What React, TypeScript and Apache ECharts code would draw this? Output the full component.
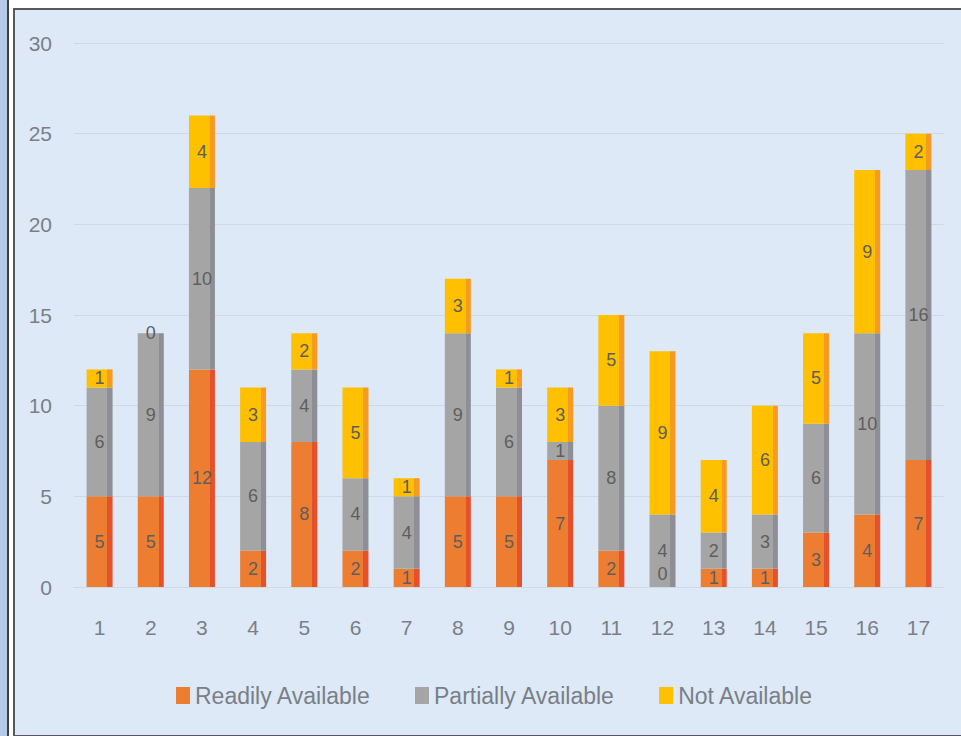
import React, { useEffect, useRef } from "react";
import * as echarts from "echarts";

const categories = ["1", "2", "3", "4", "5", "6", "7", "8", "9", "10", "11", "12", "13", "14", "15", "16", "17"];
const readilyAvailable = [5, 5, 12, 2, 8, 2, 1, 5, 5, 7, 2, 0, 1, 1, 3, 4, 7];
const partiallyAvailable = [6, 9, 10, 6, 4, 4, 4, 9, 6, 1, 8, 4, 2, 3, 6, 10, 16];
const notAvailable = [1, 0, 4, 3, 2, 5, 1, 3, 1, 3, 5, 9, 4, 6, 5, 9, 2];
const yTicks = { min: 0, max: 30, interval: 5 };

const FONT = "'Liberation Sans', Arial, sans-serif";

const seriesDefs = [
  { name: "Readily Available", data: readilyAvailable, color: "#ed7d31", edge: "#e5512b" },
  { name: "Partially Available", data: partiallyAvailable, color: "#a5a5a5", edge: "#8d8f94" },
  { name: "Not Available", data: notAvailable, color: "#ffc000", edge: "#f59b22" },
];

// Flat face with a darker strip on the right, for a slight 3D edge
const faceFill = (main: string, edge: string) =>
  new echarts.graphic.LinearGradient(0, 0, 1, 0, [
    { offset: 0, color: main },
    { offset: 0.8, color: main },
    { offset: 0.8, color: edge },
    { offset: 1, color: edge },
  ]);

export default function App() {
  const ref = useRef<HTMLDivElement>(null);

  useEffect(() => {
    if (!ref.current) return;
    const chart = echarts.init(ref.current, undefined, { renderer: "svg" });
    chart.setOption({
      animation: false,
      backgroundColor: "transparent",
      textStyle: { fontFamily: FONT },
      grid: { left: 74, right: 17, top: 43, bottom: 149 },
      legend: {
        left: 171,
        top: 679,
        itemWidth: 14,
        itemHeight: 17,
        itemGap: 44,
        icon: "rect",
        textStyle: { fontFamily: FONT, fontSize: 23, color: "#7a7f87" },
        data: seriesDefs.map((s) => ({ name: s.name, itemStyle: { color: s.color } })),
      },
      xAxis: {
        type: "category",
        data: categories,
        axisLine: { show: true, lineStyle: { color: "#cfd9e5", width: 1 } },
        axisTick: { show: false },
        axisLabel: { fontFamily: FONT, fontSize: 21, color: "#7a7f87", margin: 30 },
      },
      yAxis: {
        type: "value",
        min: yTicks.min,
        max: yTicks.max,
        interval: yTicks.interval,
        axisLine: { show: false },
        axisTick: { show: false },
        splitLine: { lineStyle: { color: "#cfd9e5", width: 1 } },
        axisLabel: { fontFamily: FONT, fontSize: 21, color: "#7a7f87", margin: 22 },
      },
      series: seriesDefs.map((s, si) => ({
        name: s.name,
        type: "bar",
        stack: "total",
        barWidth: 26,
        // a zero-height bottom segment keeps its label just above the baseline
        data: s.data.map((v) =>
          si === 0 && v === 0 ? { value: v, label: { position: "insideBottom", distance: 4 } } : v
        ),
        itemStyle: { color: faceFill(s.color, s.edge) },
        label: {
          show: true,
          position: "inside",
          fontFamily: FONT,
          fontSize: 18,
          color: "#5e5e5e",
        },
      })),
    });
    return () => chart.dispose();
  }, []);

  return (
    <div style={{ position: "fixed", left: 0, top: 0, width: 961, height: 736, background: "#ffffff", overflow: "hidden" }}>
      {/* left side strip */}
      <div style={{ position: "absolute", left: 0, top: 0, width: 7, height: 736, background: "#b6c8e8", borderRight: "2px solid #3f3f3f" }} />
      {/* chart panel */}
      <div
        style={{
          position: "absolute",
          left: 13,
          top: 8,
          width: 960,
          height: 725,
          background: "#dde9f6",
          borderLeft: "2px solid #555a60",
          borderTop: "2px solid #555a60",
          borderBottom: "2px solid #555a60",
        }}
      />
      <div ref={ref} style={{ position: "absolute", left: 0, top: 0, width: 961, height: 736 }} />
    </div>
  );
}
